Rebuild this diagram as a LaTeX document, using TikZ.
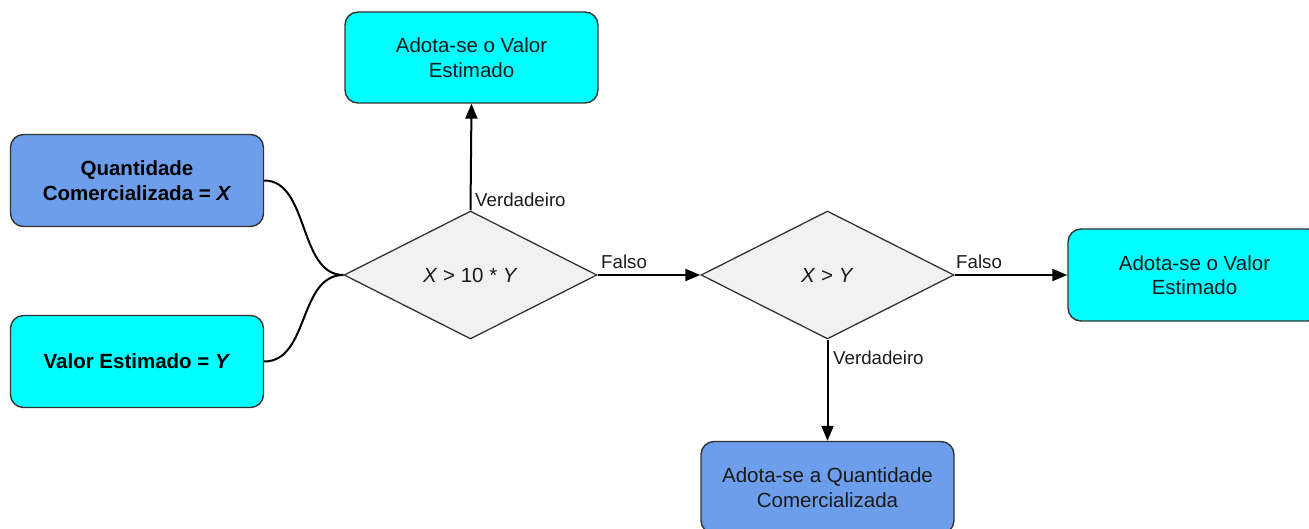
\documentclass[tikz,border=0pt]{standalone}
\usepackage{fontspec}
\setmainfont{Liberation Sans}
\usetikzlibrary{shapes.geometric,arrows.meta}
\definecolor{boxblue}{HTML}{6D9EEB}
\definecolor{boxcyan}{HTML}{00FFFF}
\definecolor{dfill}{HTML}{F1F1F1}
\definecolor{edge}{HTML}{333333}
\definecolor{txt}{HTML}{1A1A1A}
\tikzset{
  box/.style={draw=edge, line width=1.4pt, rounded corners=13pt, minimum width=253pt,
    minimum height=92pt, align=center, text=txt, inner sep=2pt,
    font=\fontsize{20.5}{24.5}\selectfont},
  bluebox/.style={box, fill=boxblue},
  cyanbox/.style={box, fill=boxcyan},
  bfont/.style={font=\fontsize{20.5}{24.5}\selectfont\bfseries, text=black},
  decision/.style={draw=edge, line width=1.3pt, fill=dfill, diamond, aspect=1.95,
    minimum width=253pt, minimum height=128pt, inner sep=0pt, text=txt,
    font=\fontsize{20.5}{24}\selectfont},
  conn/.style={line width=2pt, -{Triangle[length=15pt,width=12pt]}},
  curve/.style={line width=2pt},
  lbl/.style={font=\fontsize{18.7}{20}\selectfont, text=txt, inner sep=0pt}
}
\begin{document}
\begin{tikzpicture}[x=1pt,y=-1pt]
\clip (0,0) rectangle (1309,529);
\useasboundingbox (0,0) rectangle (1309,529);
\node[bluebox, bfont] (q) at (137,180.5) {Quantidade\\Comercializada = \textit{X}};
\node[cyanbox, bfont] (v) at (137,361.5) {Valor Estimado = \textit{Y}};
\node[decision] (d1) at (470.5,275) {\textit{X} > 10 * \textit{Y}};
\node[cyanbox, minimum height=91pt] (top) at (471.5,57.5) {Adota-se o Valor\\Estimado};
\node[decision] (d2) at (827.5,275) {\textit{X} > \textit{Y}};
\node[cyanbox] (right) at (1194.5,275) {Adota-se o Valor\\Estimado};
\node[bluebox] (bottom) at (827.5,487.5) {Adota-se a Quantidade\\Comercializada};

\draw[curve] (q.east) .. controls +(45,0) and +(-45,0) .. (d1.west);
\draw[curve] (v.east) .. controls +(45,0) and +(-45,0) .. (d1.west);
\draw[conn] (d1.north) -- (top.south);
\draw[conn] (d1.east) -- (d2.west);
\draw[conn] (d2.east) -- (right.west);
\draw[conn] (d2.south) -- (bottom.north);

\node[lbl, anchor=base west] (l1) at (475,207) {Verdadeiro};
\node[lbl, anchor=base west] (l2) at (601,269) {Falso};
\node[lbl, anchor=base west] (l3) at (956,269) {Falso};
\node[lbl, anchor=base west] (l4) at (833,364) {Verdadeiro};
\end{tikzpicture}
\end{document}
